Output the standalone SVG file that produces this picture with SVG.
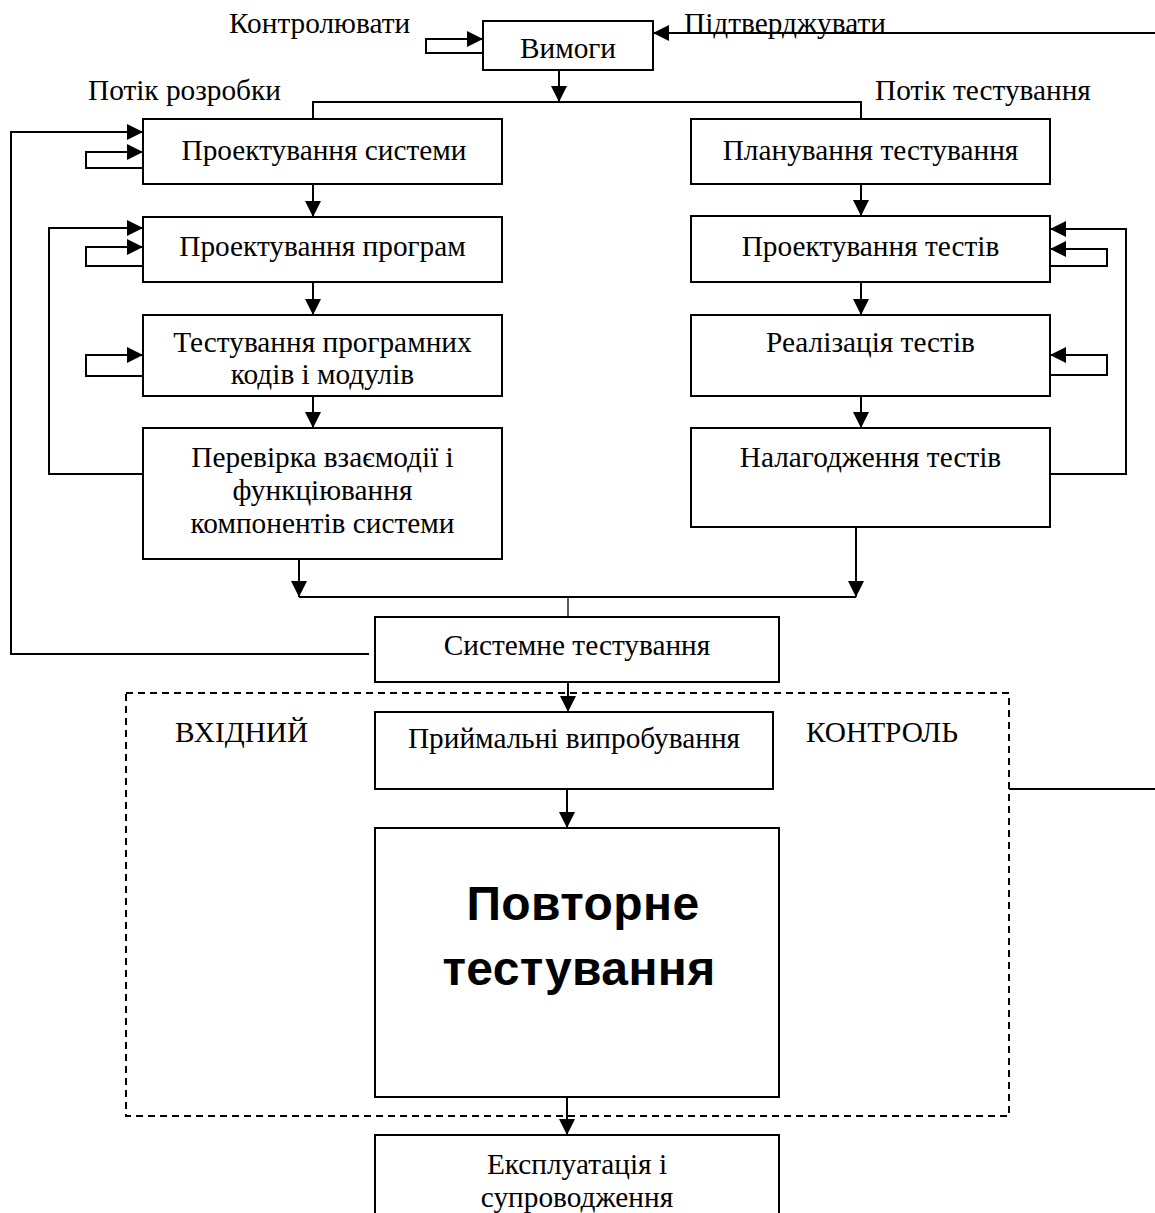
<svg xmlns="http://www.w3.org/2000/svg" width="1155" height="1213" viewBox="0 0 1155 1213">
<defs>
<marker id="ah" markerUnits="userSpaceOnUse" markerWidth="16" markerHeight="16" refX="16" refY="8" orient="auto">
<path d="M0,0 L16,8 L0,16 z" fill="#000"/>
</marker>
<style>
.box{fill:#fff;stroke:#000;stroke-width:2}
.t{font-family:"Liberation Serif","Times New Roman",serif;font-size:29.3px;fill:#000;text-anchor:middle}
.tl{font-family:"Liberation Serif","Times New Roman",serif;font-size:29.3px;fill:#000}
.big{font-family:"Liberation Sans",Arial,sans-serif;font-size:48px;font-weight:bold;fill:#000;text-anchor:middle;letter-spacing:0.4px}
.c{fill:none;stroke:#000;stroke-width:2}
.ca{fill:none;stroke:#000;stroke-width:2;marker-end:url(#ah)}
.thin{fill:none;stroke:#000;stroke-width:1.3}
.dash{fill:none;stroke:#000;stroke-width:2;stroke-dasharray:7,5}
</style>
</defs>
<rect width="1155" height="1213" fill="#fff"/>

<g id="control-frame">
<rect class="dash" x="126" y="693" width="883" height="423"/>
<text class="tl" x="175" y="742">ВХІДНИЙ</text>
<text class="tl" x="806" y="742">КОНТРОЛЬ</text>
</g>

<g id="labels">
<text class="tl" x="229" y="33">Контролювати</text>
<text class="tl" x="684" y="33">Підтверджувати</text>
<text class="tl" x="88" y="100">Потік розробки</text>
<text class="tl" x="875" y="100">Потік тестування</text>
</g>

<g id="connectors">
<path class="ca" d="M483,53 H426 V39 H483"/>
<path class="ca" d="M1155,33 H653"/>
<path class="ca" d="M559,70 V102"/>
<path class="c" d="M313,119 V102 H861 V119"/>
<path class="ca" d="M369,654 H11 V132 H143"/>
<path class="ca" d="M143,168 H86 V152 H143"/>
<path class="ca" d="M313,184 V217"/>
<path class="ca" d="M143,474 H49 V228 H143"/>
<path class="ca" d="M143,266 H86 V247 H143"/>
<path class="ca" d="M313,282 V315"/>
<path class="ca" d="M143,376 H86 V355 H143"/>
<path class="ca" d="M313,396 V428"/>
<path class="ca" d="M299,559 V597"/>
<path class="ca" d="M861,184 V216"/>
<path class="ca" d="M1050,474 H1126 V229 H1050"/>
<path class="ca" d="M1050,266 H1107 V249 H1050"/>
<path class="ca" d="M861,282 V315"/>
<path class="ca" d="M1050,375 H1107 V355 H1050"/>
<path class="ca" d="M861,396 V428"/>
<path class="ca" d="M856,520 V597"/>
<path class="c" d="M299,597 H856"/>
<path class="thin" d="M568,597 V617"/>
<path class="ca" d="M568,673 V712"/>
<path class="ca" d="M567,789 V828"/>
<path class="ca" d="M567,1097 V1135"/>
<path class="c" d="M1009,789 H1155"/>
</g>

<g id="vymohy">
<rect class="box" x="483" y="21" width="170" height="49"/>
<text class="t" x="568" y="58">Вимоги</text>
</g>
<g id="proekt-systemy">
<rect class="box" x="143" y="119" width="359" height="65"/>
<text class="t" x="324" y="160">Проектування системи</text>
</g>
<g id="planuvannia">
<rect class="box" x="691" y="119" width="359" height="65"/>
<text class="t" x="870.5" y="160">Планування тестування</text>
</g>
<g id="proekt-prohram">
<rect class="box" x="143" y="217" width="359" height="65"/>
<text class="t" x="322.5" y="256">Проектування програм</text>
</g>
<g id="proekt-testiv">
<rect class="box" x="691" y="216" width="359" height="66"/>
<text class="t" x="870.5" y="256">Проектування тестів</text>
</g>
<g id="test-kodiv">
<rect class="box" x="143" y="315" width="359" height="81"/>
<text class="t" x="322.5" y="352">Тестування програмних</text>
<text class="t" x="322.5" y="384">кодів і модулів</text>
</g>
<g id="realizatsiia">
<rect class="box" x="691" y="315" width="359" height="81"/>
<text class="t" x="870.5" y="352">Реалізація тестів</text>
</g>
<g id="perevirka">
<rect class="box" x="143" y="428" width="359" height="131"/>
<text class="t" x="322.5" y="467">Перевірка взаємодії і</text>
<text class="t" x="322.5" y="500">функціювання</text>
<text class="t" x="322.5" y="533">компонентів системи</text>
</g>
<g id="nalahodzhennia">
<rect class="box" x="691" y="428" width="359" height="99"/>
<text class="t" x="870.5" y="467">Налагодження тестів</text>
</g>
<g id="systemne">
<rect class="box" x="375" y="617" width="404" height="65"/>
<text class="t" x="577" y="655">Системне тестування</text>
</g>
<g id="pryimalni">
<rect class="box" x="375" y="712" width="398" height="77"/>
<text class="t" x="574" y="748">Приймальні випробування</text>
</g>
<g id="povtorne">
<rect class="box" x="375" y="828" width="404" height="269"/>
<text class="big" x="583" y="920">Повторне</text>
<text class="big" x="579" y="985">тестування</text>
</g>
<g id="ekspluatatsiia">
<rect class="box" x="375" y="1135" width="404" height="90"/>
<text class="t" x="577" y="1174">Експлуатація і</text>
<text class="t" x="577" y="1207">супроводження</text>
</g>
</svg>
